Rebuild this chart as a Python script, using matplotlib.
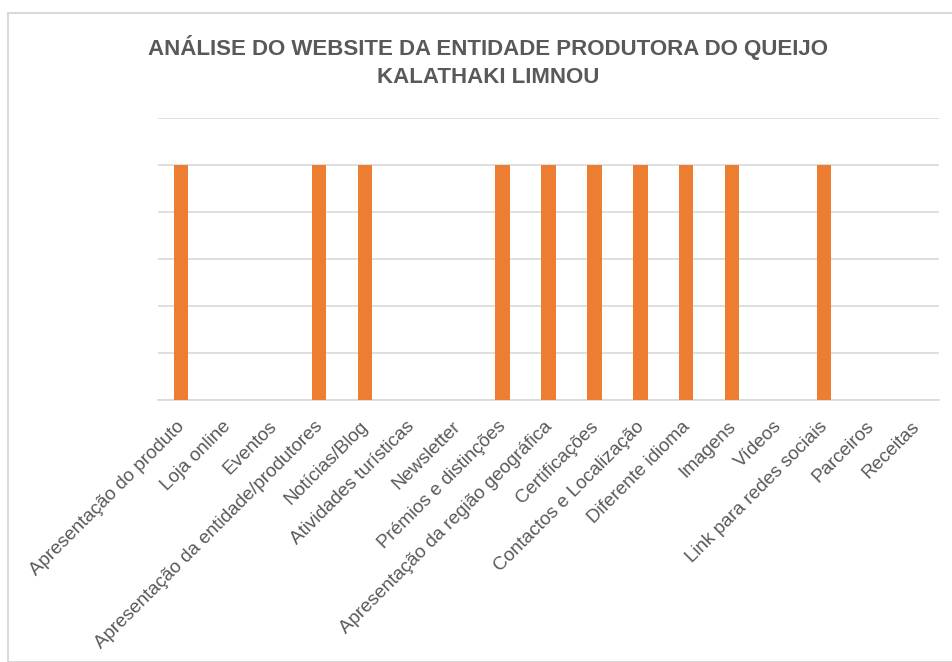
import matplotlib
matplotlib.use("Agg")
import matplotlib.pyplot as plt
from matplotlib.patches import Rectangle
from matplotlib.transforms import ScaledTranslation

categories = [
    "Apresentação do produto", "Loja online", "Eventos",
    "Apresentação da entidade/produtores", "Notícias/Blog",
    "Atividades turísticas", "Newsletter", "Prémios e distinções",
    "Apresentação da região geográfica", "Certificações",
    "Contactos e Localização", "Diferente idioma", "Imagens", "Vídeos",
    "Link para redes sociais", "Parceiros", "Receitas",
]
values = [1, 0, 0, 1, 1, 0, 0, 1, 1, 1, 1, 1, 1, 0, 1, 0, 0]
title = "ANÁLISE DO WEBSITE DA ENTIDADE PRODUTORA DO QUEIJO\nKALATHAKI LIMNOU"

plt.rcParams['font.family'] = ['Liberation Sans', 'DejaVu Sans']
W, H = 952, 662
fig = plt.figure(figsize=(W / 100, H / 100), dpi=100)

# chart border
fig.patches.append(Rectangle((8 / W, 0), 1.2, 1 - 13 / H, transform=fig.transFigure,
                             fill=False, edgecolor="#d9d9d9", linewidth=1.5))

ax = fig.add_axes([158 / W, 1 - 400 / H, (939 - 158) / W, (400 - 118) / H])
x = list(range(len(categories)))
ax.bar(x, values, width=0.31, color="#ed7d31", zorder=3)
ax.set_xlim(-0.5, len(categories) - 0.5)
ax.set_ylim(0, 1.2)
ax.set_yticks([0.2 * i for i in range(7)])
ax.set_yticklabels([])
ax.tick_params(axis="y", length=0)
ax.yaxis.grid(True, color="#d9d9d9", linewidth=1.2, zorder=0)
for s in ["top", "right", "left"]:
    ax.spines[s].set_visible(False)
ax.spines["bottom"].set_color("#d9d9d9")
ax.spines["bottom"].set_linewidth(1.2)
ax.set_xticks(x)
ax.set_xticklabels(categories, rotation=45, ha="right", va="top",
                   rotation_mode="anchor", fontsize=13.6, color="#595959")
ax.tick_params(axis="x", length=0, pad=10)
off = ScaledTranslation(-5 / 100, -4 / 100, fig.dpi_scale_trans)
for lbl in ax.get_xticklabels():
    lbl.set_transform(lbl.get_transform() + off)

fig.text(488 / W, 1 - 35 / H, title, ha="center", va="top", fontsize=16,
         fontweight="bold", color="#595959", linespacing=1.45)

fig.savefig("out.png", dpi=100)
